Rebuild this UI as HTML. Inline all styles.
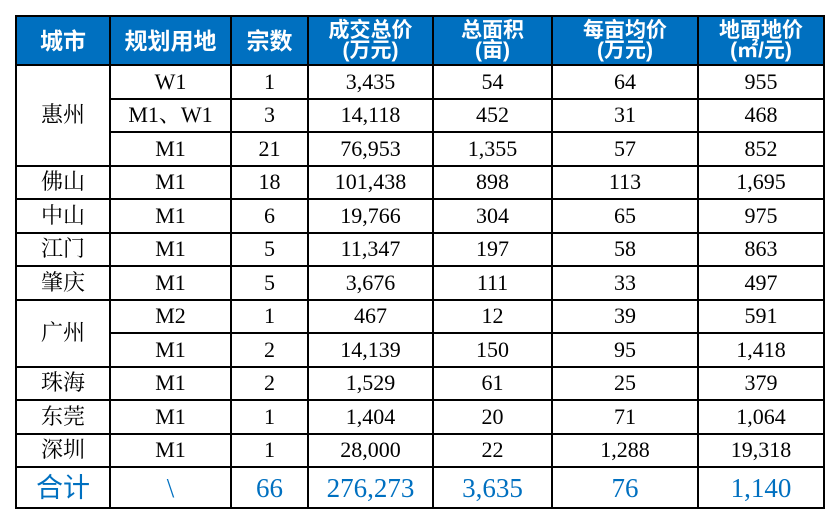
<!DOCTYPE html>
<html><head><meta charset="utf-8"><style>
body{margin:0;background:#fff;width:840px;height:532px;overflow:hidden}
table{position:absolute;left:15px;top:15px;border-collapse:collapse;table-layout:fixed;font-family:"Liberation Serif","Noto Serif CJK SC",serif;font-size:22px;color:#000}
td,th{border:2.5px solid #000;text-align:center;padding:0;height:31.5px;line-height:24px;white-space:nowrap}
th{background:#0070C0;color:#fff;font-family:"Liberation Sans","Noto Sans CJK SC",sans-serif;font-weight:bold;height:47px;font-size:21px;line-height:20px}
th.one{font-size:23px}
tr.tot td{color:#0070C0;height:39px;font-size:27px}
tr.tot td.c{font-family:"Liberation Sans","Noto Sans CJK SC",sans-serif;font-size:27px}
</style></head><body>
<table>
<colgroup><col style="width:94px"><col style="width:121px"><col style="width:77px"><col style="width:125px"><col style="width:119px"><col style="width:146px"><col style="width:126px"></colgroup>
<tr><th class="one">城市</th><th class="one">规划用地</th><th class="one">宗数</th><th>成交总价<br>(万元)</th><th>总面积<br>(亩)</th><th>每亩均价<br>(万元)</th><th>地面地价<br>(㎡/元)</th></tr>
<tr><td rowspan="3">惠州</td><td>W1</td><td>1</td><td>3,435</td><td>54</td><td>64</td><td>955</td></tr>
<tr><td>M1、W1</td><td>3</td><td>14,118</td><td>452</td><td>31</td><td>468</td></tr>
<tr><td>M1</td><td>21</td><td>76,953</td><td>1,355</td><td>57</td><td>852</td></tr>
<tr><td>佛山</td><td>M1</td><td>18</td><td>101,438</td><td>898</td><td>113</td><td>1,695</td></tr>
<tr><td>中山</td><td>M1</td><td>6</td><td>19,766</td><td>304</td><td>65</td><td>975</td></tr>
<tr><td>江门</td><td>M1</td><td>5</td><td>11,347</td><td>197</td><td>58</td><td>863</td></tr>
<tr><td>肇庆</td><td>M1</td><td>5</td><td>3,676</td><td>111</td><td>33</td><td>497</td></tr>
<tr><td rowspan="2">广州</td><td>M2</td><td>1</td><td>467</td><td>12</td><td>39</td><td>591</td></tr>
<tr><td>M1</td><td>2</td><td>14,139</td><td>150</td><td>95</td><td>1,418</td></tr>
<tr><td>珠海</td><td>M1</td><td>2</td><td>1,529</td><td>61</td><td>25</td><td>379</td></tr>
<tr><td>东莞</td><td>M1</td><td>1</td><td>1,404</td><td>20</td><td>71</td><td>1,064</td></tr>
<tr><td>深圳</td><td>M1</td><td>1</td><td>28,000</td><td>22</td><td>1,288</td><td>19,318</td></tr>
<tr class="tot"><td class="c">合计</td><td>\</td><td>66</td><td>276,273</td><td>3,635</td><td>76</td><td>1,140</td></tr>
</table>
</body></html>
